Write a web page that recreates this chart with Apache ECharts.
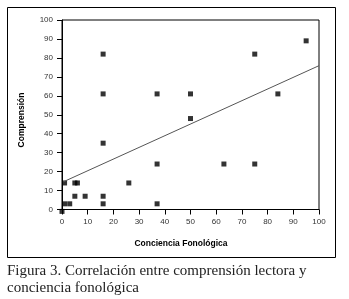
<!DOCTYPE html>
<html>
<head>
<meta charset="utf-8">
<script src="https://cdn.jsdelivr.net/npm/echarts@6/dist/echarts.min.js"></script>
<style>
  html, body { margin: 0; padding: 0; background: #fff; }
  #chart { width: 349px; height: 299px; }
</style>
</head>
<body>
<div id="chart"></div>
<script>
// puntos: [conciencia fonológica, comprensión]
const conciencia = [95, 75, 16, 16, 37, 50, 84, 50, 16, 37, 63, 75, 1, 5, 6, 26, 5, 9, 16, 1, 3, 16, 37, 0];
const comprension = [89, 82, 82, 61, 61, 61, 61, 48, 35, 24, 24, 24, 14, 14, 14, 14, 7, 7, 7, 3, 3, 3, 3, -1];
// recta de regresión (extremos)
const rectaX = [0.5, 100];
const rectaY = [14.6, 75.9];
const ticks = [0, 10, 20, 30, 40, 50, 60, 70, 80, 90, 100];

const puntos = conciencia.map((x, i) => [x, comprension[i]]);
const recta = rectaX.map((x, i) => [x, rectaY[i]]);

const chart = echarts.init(document.getElementById('chart'));

const axisCommon = {
  type: 'value',
  min: ticks[0],
  max: ticks[ticks.length - 1],
  interval: ticks[1] - ticks[0],
  axisLine: { show: true, lineStyle: { color: '#000', width: 1 } },
  axisTick: { show: true, length: 5, lineStyle: { color: '#000' } },
  splitLine: { show: false },
  axisLabel: { color: '#333', fontSize: 8, fontFamily: 'Liberation Sans, Arial, sans-serif' }
};

chart.setOption({
  animation: false,
  grid: {
    left: 62, right: 30, top: 20, bottom: 89.5,
    show: true, borderColor: '#000', borderWidth: 1
  },
  xAxis: Object.assign({}, axisCommon, {
    axisLabel: Object.assign({}, axisCommon.axisLabel, { margin: 8 })
  }),
  yAxis: Object.assign({}, axisCommon, {
    axisLabel: Object.assign({}, axisCommon.axisLabel, { margin: 9 })
  }),
  graphic: [
    {
      type: 'rect', shape: { x: 7.5, y: 7.5, width: 328, height: 250 },
      style: { fill: 'none', stroke: '#000', lineWidth: 1 }, z: -1
    },
    {
      type: 'text', x: 181, y: 244,
      style: {
        text: 'Conciencia Fonológica', fill: '#000', align: 'center', verticalAlign: 'middle',
        font: 'bold 8.5px "Liberation Sans", Arial, sans-serif'
      }
    },
    {
      type: 'text', x: 22, y: 120, rotation: Math.PI / 2,
      style: {
        text: 'Comprensión', fill: '#000', align: 'center', verticalAlign: 'middle',
        font: 'bold 8.5px "Liberation Sans", Arial, sans-serif'
      }
    },
    {
      type: 'text', x: 7, y: 271,
      style: {
        text: 'Figura 3. Correlación entre comprensión lectora y', fill: '#222',
        verticalAlign: 'middle', font: '15px "Liberation Serif", serif'
      }
    },
    {
      type: 'text', x: 7, y: 288,
      style: {
        text: 'conciencia fonológica', fill: '#222',
        verticalAlign: 'middle', font: '15px "Liberation Serif", serif'
      }
    }
  ],
  series: [
    {
      type: 'line',
      data: recta,
      showSymbol: false,
      silent: true,
      lineStyle: { color: '#555', width: 1 }
    },
    {
      type: 'scatter',
      data: puntos,
      symbol: 'rect',
      symbolSize: 5,
      clip: false,
      itemStyle: { color: '#000' }
    }
  ]
});
</script>
</body>
</html>
